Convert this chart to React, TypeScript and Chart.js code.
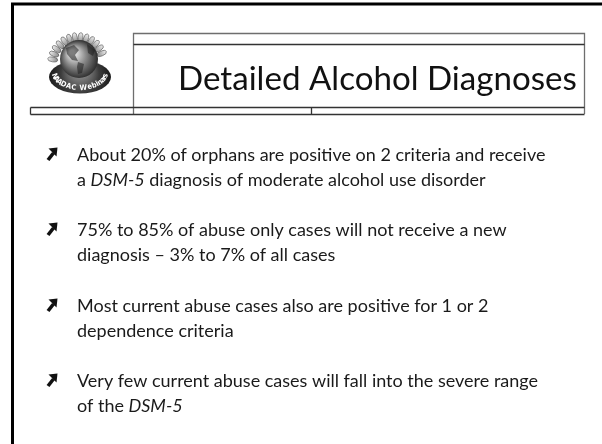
import React, { useEffect, useRef } from "react";
import { Chart, registerables } from "chart.js";

Chart.register(...registerables);

const titleText = "Detailed Alcohol Diagnoses";
const logoText = "NAADAC Webinars";
const bulletParagraphs: string[][] = [
  ["About 20% of orphans are positive on 2 criteria and receive", "a *DSM-5* diagnosis of moderate alcohol use disorder"],
  ["75% to 85% of abuse only cases will not receive a new", "diagnosis – 3% to 7% of all cases"],
  ["Most current abuse cases also are positive for 1 or 2", "dependence criteria"],
  ["Very few current abuse cases will fall into the severe range", "of the *DSM-5*"],
];
const paragraphTops = [161, 236, 312, 387];

const W = 602;
const H = 444;
const BODY_FONT = "Lato";
const BODY_SIZE = 18;

function drawRichLine(ctx: CanvasRenderingContext2D, line: string, x: number, y: number) {
  const parts = line.split("*");
  let cx = x;
  parts.forEach((p, i) => {
    const italic = i % 2 === 1;
    ctx.font = `${italic ? "italic " : ""}400 ${BODY_SIZE}px ${BODY_FONT}`;
    ctx.fillText(p, cx, y);
    cx += ctx.measureText(p).width;
  });
}

function drawArrow(ctx: CanvasRenderingContext2D, x: number, b: number) {
  ctx.save();
  ctx.fillStyle = "#111";
  ctx.strokeStyle = "#111";
  ctx.lineWidth = 3.6;
  ctx.lineCap = "butt";
  ctx.beginPath();
  ctx.moveTo(x + 1, b);
  ctx.lineTo(x + 6.5, b - 7);
  ctx.stroke();
  const tx = x + 10.5, ty = b - 12.5;
  ctx.beginPath();
  ctx.moveTo(tx, ty);
  ctx.lineTo(tx - 9, ty + 1);
  ctx.lineTo(tx - 1, ty + 9);
  ctx.closePath();
  ctx.fill();
  ctx.restore();
}

function drawLogo(ctx: CanvasRenderingContext2D) {
  ctx.save();
  // rays
  const rcx = 78, rcy = 63;
  for (let i = 0; i < 13; i++) {
    const a = (-172 + i * 12.5) * Math.PI / 180;
    const r = 25.5;
    const x = rcx + r * Math.cos(a);
    const y = rcy + r * Math.sin(a);
    ctx.save();
    ctx.translate(x, y);
    ctx.rotate(a + Math.PI / 2);
    const g = ctx.createLinearGradient(0, -5, 0, 5);
    g.addColorStop(0, "#f0f0f0");
    g.addColorStop(1, "#888");
    ctx.fillStyle = g;
    ctx.strokeStyle = "#555";
    ctx.lineWidth = 0.6;
    ctx.beginPath();
    ctx.ellipse(0, 0, 2.4, 5, 0, 0, Math.PI * 2);
    ctx.fill();
    ctx.stroke();
    ctx.restore();
  }
  // base disc
  const bg = ctx.createRadialGradient(80, 68, 4, 80, 80, 34);
  bg.addColorStop(0, "#9a9a9a");
  bg.addColorStop(0.5, "#3c3c3c");
  bg.addColorStop(1, "#111");
  ctx.fillStyle = bg;
  ctx.beginPath();
  ctx.ellipse(80, 77, 31, 16.5, 0, 0, Math.PI * 2);
  ctx.fill();
  // globe
  const gg = ctx.createRadialGradient(72, 52, 2, 79, 60, 21);
  gg.addColorStop(0, "#f4f4f4");
  gg.addColorStop(0.45, "#8c8c8c");
  gg.addColorStop(1, "#1c1c1c");
  ctx.fillStyle = gg;
  ctx.beginPath();
  ctx.arc(79, 59, 19, 0, Math.PI * 2);
  ctx.fill();
  // continents (rough)
  ctx.fillStyle = "rgba(30,30,30,0.55)";
  ctx.beginPath();
  ctx.moveTo(66, 48); ctx.lineTo(74, 45); ctx.lineTo(79, 50); ctx.lineTo(75, 55);
  ctx.lineTo(78, 61); ctx.lineTo(72, 60); ctx.lineTo(67, 54); ctx.closePath();
  ctx.fill();
  ctx.beginPath();
  ctx.moveTo(78, 62); ctx.lineTo(84, 64); ctx.lineTo(82, 73); ctx.lineTo(78, 74); ctx.lineTo(77, 67);
  ctx.closePath();
  ctx.fill();
  ctx.beginPath();
  ctx.moveTo(87, 44); ctx.lineTo(95, 50); ctx.lineTo(93, 56); ctx.lineTo(88, 53); ctx.closePath();
  ctx.fill();
  // curved text along the lower ring
  ctx.fillStyle = "#fff";
  ctx.font = "bold 7.5px 'DejaVu Sans Condensed', 'Liberation Sans Narrow', sans-serif";
  ctx.textBaseline = "alphabetic";
  ctx.textAlign = "center";
  const tcx = 80, tcy = 73, trx = 28, try_ = 17;
  const tr = 24;
  const widths = logoText.split("").map((c) => ctx.measureText(c).width);
  const total = widths.reduce((s, v) => s + v, 0);
  let ang = Math.PI / 2 + total / 2 / tr;
  logoText.split("").forEach((c, i) => {
    const w = widths[i];
    const a = ang - w / 2 / tr;
    ctx.save();
    const px = tcx + trx * Math.cos(a);
    const py = tcy + try_ * Math.sin(a);
    ctx.translate(px, py);
    const tang = Math.atan2(try_ * Math.cos(a), -trx * Math.sin(a));
    ctx.rotate(tang + Math.PI);
    ctx.fillText(c, 0, 0);
    ctx.restore();
    ang -= w / tr;
  });
  ctx.restore();
}

const slidePlugin = {
  id: "slide",
  beforeDraw(chart: any) {
    const ctx: CanvasRenderingContext2D = chart.ctx;
    ctx.save();
    ctx.fillStyle = "#fff";
    ctx.fillRect(0, 0, W, H);

    // outer frame
    ctx.strokeStyle = "#000";
    ctx.lineWidth = 3;
    ctx.beginPath();
    ctx.moveTo(12.5, H);
    ctx.lineTo(12.5, 4);
    ctx.lineTo(W, 4);
    ctx.stroke();

    // title box
    ctx.lineWidth = 1.3;
    ctx.strokeStyle = "#6e6e6e";
    ctx.beginPath();
    ctx.moveTo(133.5, 114); ctx.lineTo(133.5, 33.5); ctx.lineTo(584.5, 33.5); ctx.lineTo(584.5, 114);
    ctx.stroke();
    ctx.strokeStyle = "#333";
    ctx.beginPath();
    ctx.moveTo(133.5, 44.5); ctx.lineTo(584.5, 44.5);
    ctx.moveTo(30.5, 107.5); ctx.lineTo(584.5, 107.5);
    ctx.moveTo(30.5, 114.5); ctx.lineTo(584.5, 114.5);
    ctx.moveTo(30.5, 107.5); ctx.lineTo(30.5, 114.5);
    ctx.moveTo(311.5, 107.5); ctx.lineTo(311.5, 114.5);
    ctx.stroke();

    drawLogo(ctx);

    // title, sized to span the same width as in the slide
    ctx.fillStyle = "#111";
    ctx.textAlign = "left";
    ctx.textBaseline = "alphabetic";
    ctx.font = `400 100px ${BODY_FONT}`;
    const w100 = ctx.measureText(titleText).width;
    const size = Math.min(40, (399 / w100) * 100);
    ctx.font = `400 ${size.toFixed(2)}px ${BODY_FONT}`;
    ctx.fillText(titleText, 178, 90);

    // bullets
    ctx.fillStyle = "#1a1a1a";
    bulletParagraphs.forEach((para, pi) => {
      const top = paragraphTops[pi];
      drawArrow(ctx, 47, top - 1);
      para.forEach((line, li) => {
        drawRichLine(ctx, line, 77, top + li * 24.5);
      });
    });
    ctx.restore();
  },
};

export default function App() {
  const ref = useRef<HTMLCanvasElement | null>(null);
  useEffect(() => {
    if (!ref.current) return;
    const chart = new Chart(ref.current, {
      type: "scatter",
      data: { datasets: [] },
      options: {
        responsive: false,
        animation: false,
        events: [],
        layout: { padding: 0 },
        plugins: { legend: { display: false }, tooltip: { enabled: false }, title: { display: false } },
        scales: { x: { display: false }, y: { display: false } },
      },
      plugins: [slidePlugin],
    });
    return () => chart.destroy();
  }, []);
  return (
    <div style={{ position: "fixed", left: 0, top: 0, width: W, height: H, background: "#fff" }}>
      <canvas ref={ref} width={W} height={H} style={{ width: W, height: H, display: "block" }} />
    </div>
  );
}
